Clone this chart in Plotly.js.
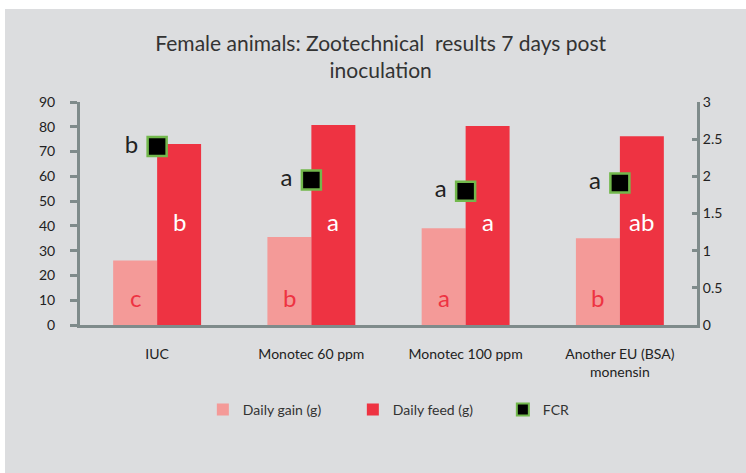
<!DOCTYPE html>
<html>
<head>
<meta charset="utf-8">
<script src="https://cdn.plot.ly/plotly-3.0.1.min.js"></script>
<style>
  html, body { margin: 0; padding: 0; background: #ffffff; }
  #chart { position: absolute; left: 5px; top: 9px; width: 741px; height: 464px; }
</style>
</head>
<body>
<div id="chart"></div>
<script>
// ---- data ----
var categories = ['IUC', 'Monotec 60 ppm', 'Monotec 100 ppm', 'Another EU (BSA)<br>monensin'];
var dailyGain = [26, 35.5, 39, 35];
var dailyFeed = [73, 80.7, 80.3, 76.2];
var fcr = [2.4, 1.95, 1.8, 1.91];
var gainLetters = ['c', 'b', 'a', 'b'];
var feedLetters = ['b', 'a', 'a', 'ab'];
var fcrLetters = ['b', 'a', 'a', 'a'];

// ---- style constants ----
var FONT = 'Lato, "Open Sans", sans-serif';
var AXIS = '#7f8b8b';
var GAIN_LABEL_LEVEL = 11.3;  // height (left-axis units) at which the significance letters sit
var FEED_LABEL_LEVEL = 41.6;
var NB = '\u00a0';
var W = 741, MARGIN = { l: 75, r: 49, t: 93, b: 148 }, BARGAP = 0.43;

var bandPx = (W - MARGIN.l - MARGIN.r) / categories.length;
var halfBar = bandPx * (1 - BARGAP) / 4; // half a bar's width, px

var traces = [
  {
    type: 'bar', name: 'Daily gain (g)', x: categories, y: dailyGain,
    marker: { color: '#f49a98' }, hoverinfo: 'y'
  },
  {
    type: 'bar', name: 'Daily feed (g)', x: categories, y: dailyFeed,
    marker: { color: '#ee3342' }, hoverinfo: 'y'
  },
  {
    type: 'scatter', mode: 'markers+text', name: 'FCR', x: categories, y: fcr,
    yaxis: 'y2',
    marker: { symbol: 'square', size: 19, color: '#000000', line: { color: '#72b84c', width: 2.5 } },
    text: fcrLetters.map(function (t) { return t + NB; }), textposition: 'middle left',
    textfont: { family: FONT, size: 24, color: '#222222' },
    hoverinfo: 'y'
  }
];

var annotations = [];
categories.forEach(function (c, i) {
  annotations.push({
    x: c, xref: 'x', y: GAIN_LABEL_LEVEL, yref: 'y', xshift: -halfBar,
    text: gainLetters[i], showarrow: false,
    font: { family: FONT, size: 24, color: '#ee3342' }
  });
  annotations.push({
    x: c, xref: 'x', y: FEED_LABEL_LEVEL, yref: 'y', xshift: halfBar,
    text: feedLetters[i], showarrow: false,
    font: { family: FONT, size: 24, color: '#ffffff' }
  });
});

var layout = {
  width: W, height: 464,
  paper_bgcolor: '#dcdddf', plot_bgcolor: 'rgba(0,0,0,0)',
  margin: MARGIN,
  font: { family: FONT, color: '#222222', size: 14 },
  title: {
    text: 'Female animals: Zootechnical  results 7 days post<br>inoculation',
    font: { family: FONT, size: 21, color: '#333333' },
    x: 0.507, xanchor: 'center', y: 0.91, yanchor: 'top', yref: 'container'
  },
  barmode: 'group', bargap: BARGAP, bargroupgap: 0,
  xaxis: {
    type: 'category', showline: true, linecolor: AXIS, linewidth: 3,
    ticks: '', showgrid: false, zeroline: false,
    tickfont: { family: FONT, size: 14, color: '#222222' },
    ticklabelstandoff: 14
  },
  yaxis: {
    range: [0, 90], dtick: 10, showline: true, linecolor: AXIS, linewidth: 3,
    ticks: 'outside', ticklen: 7, tickwidth: 3, tickcolor: AXIS,
    showgrid: false, zeroline: false,
    tickfont: { family: FONT, size: 14, color: '#222222' },
    ticklabelstandoff: 12
  },
  yaxis2: {
    range: [0, 3], dtick: 0.5, overlaying: 'y', side: 'right',
    showline: true, linecolor: AXIS, linewidth: 3,
    ticks: 'inside', ticklen: 5, tickwidth: 3, tickcolor: AXIS,
    showgrid: false, zeroline: false,
    tickfont: { family: FONT, size: 14, color: '#222222' }
  },
  annotations: annotations,
  showlegend: true,
  legend: {
    orientation: 'h', xref: 'container', yref: 'container',
    x: 0.267, xanchor: 'left', y: 0.136, yanchor: 'middle',
    bgcolor: 'rgba(0,0,0,0)',
    font: { family: FONT, size: 14, color: '#333333' },
    entrywidth: 105, entrywidthmode: 'pixels',
    traceorder: 'normal', itemsizing: 'constant'
  }
};

Plotly.newPlot('chart', traces, layout, { displayModeBar: false, staticPlot: true });
</script>
</body>
</html>
